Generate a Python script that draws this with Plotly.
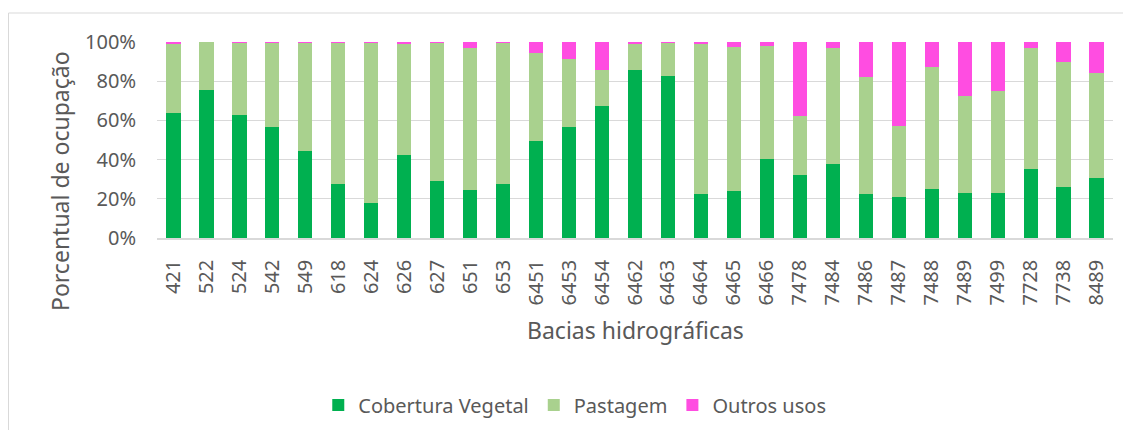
import plotly.graph_objects as go

bacias = ["421", "522", "524", "542", "549", "618", "624", "626", "627", "651", "653",
          "6451", "6453", "6454", "6462", "6463", "6464", "6465", "6466", "7478", "7484",
          "7486", "7487", "7488", "7489", "7499", "7728", "7738", "8489"]
cobertura = [63.7, 75.7, 62.7, 56.5, 44.3, 27.8, 17.7, 42.2, 28.9, 24.3, 27.6,
             49.6, 56.5, 67.3, 85.5, 82.6, 22.3, 23.8, 40.5, 32.0, 37.6,
             22.3, 20.8, 24.8, 22.8, 22.8, 35.3, 26.2, 30.5]
pastagem = [35.3, 24.3, 37.1, 43.4, 55.5, 72.1, 81.8, 56.8, 70.6, 72.6, 71.9,
            44.6, 34.8, 18.2, 13.7, 17.2, 76.5, 73.5, 57.3, 30.5, 59.2,
            59.6, 36.1, 62.6, 49.4, 52.0, 61.5, 63.7, 53.9]
outros = [round(100 - c - p, 1) for c, p in zip(cobertura, pastagem)]

font_family = "Noto Sans, sans-serif"
grey = "#595959"

# figure geometry (page has an 8px body margin)
W, H = 1123, 422
L, R, T, B = 149, 18, 34, 192
PW, PH = W - L - R, H - T - B

fig = go.Figure()
fig.add_bar(x=bacias, y=cobertura, name="Cobertura Vegetal", marker_color="#00B050", marker_line_width=0)
fig.add_bar(x=bacias, y=pastagem, name="Pastagem", marker_color="#A9D18E", marker_line_width=0)
fig.add_bar(x=bacias, y=outros, name="Outros usos", marker_color="#FF4DE1", marker_line_width=0)

fig.update_layout(
    barmode="stack",
    bargap=0.57,
    width=W, height=H,
    margin=dict(l=L, r=R, t=T, b=B, autoexpand=False),
    plot_bgcolor="white", paper_bgcolor="white",
    font=dict(family=font_family, color=grey, size=18),
    showlegend=True,
    legend=dict(orientation="h", x=0.437, xanchor="center", y=-(397 - T - PH) / PH, yanchor="middle",
                font=dict(size=20, color=grey), traceorder="normal", itemwidth=30),
    shapes=[
        dict(type="line", xref="paper", yref="paper",
             x0=(0.5 - L) / PW, x1=(W - L) / PW, y0=(T + PH - 5) / PH, y1=(T + PH - 5) / PH,
             line=dict(color="#D9D9D9", width=1), layer="below"),
        dict(type="line", xref="paper", yref="paper",
             x0=(0.5 - L) / PW, x1=(0.5 - L) / PW, y0=(T + PH - 5) / PH, y1=-(H - T - PH) / PH,
             line=dict(color="#D9D9D9", width=1), layer="below"),
    ],
    annotations=[
        dict(text="Porcentual de ocupação", xref="paper", yref="paper",
             x=(52 - L) / PW, y=(T + PH - 173) / PH, textangle=-90, showarrow=False,
             xanchor="center", yanchor="middle", font=dict(size=23, color=grey)),
        dict(text="Bacias hidrográficas", xref="paper", yref="paper",
             x=0.5, y=(T + PH - 322) / PH, showarrow=False,
             xanchor="center", yanchor="middle", font=dict(size=23, color=grey)),
    ],
)
fig.update_yaxes(range=[0, 100], tickvals=[0, 20, 40, 60, 80, 100],
                 ticktext=["0%", "20%", "40%", "60%", "80%", "100%"],
                 showgrid=True, gridcolor="#D9D9D9", gridwidth=1, zeroline=False,
                 ticks="", tickfont=dict(size=20, color=grey), ticklabelstandoff=20)
fig.update_xaxes(tickangle=-90, showline=True, linecolor="#D9D9D9", linewidth=1.5,
                 ticks="", tickfont=dict(size=20, color=grey), ticklabelstandoff=12)

fig.write_html("out.html")
